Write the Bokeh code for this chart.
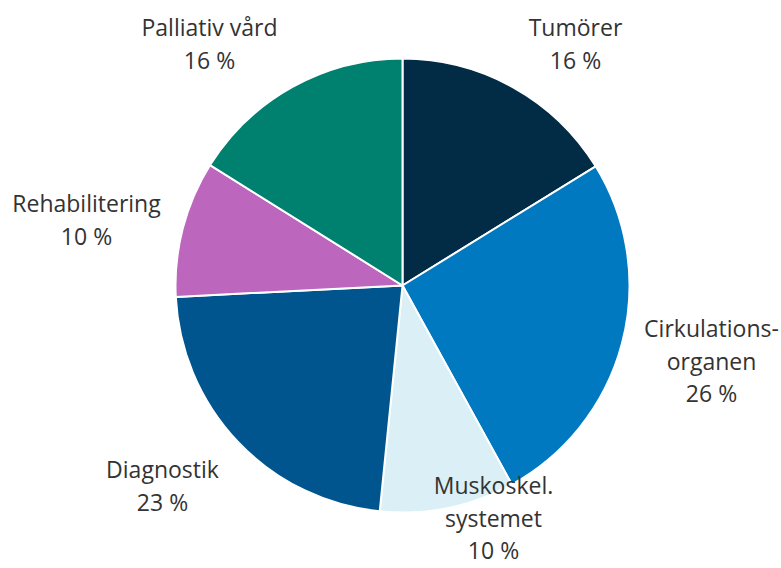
import math
from bokeh.plotting import figure
from bokeh.models import Range1d, ColumnDataSource
from bokeh.core.properties import value
from bokeh.embed import file_html
from bokeh.resources import INLINE

categories = ["Tumörer", "Cirkulations-\norganen", "Muskoskel.\nsystemet", "Diagnostik", "Rehabilitering", "Palliativ vård"]
shares = [16.2, 25.8, 9.6, 22.6, 9.7, 16.1]
pct_labels = ["16 %", "26 %", "10 %", "23 %", "10 %", "16 %"]
colors = ["#022b45", "#0079c1", "#dbeff6", "#00558f", "#bd66bd", "#00806f"]

# layout (screen pixels in the page)
W, H = 781, 568
cx, cy, R = 402, 285, 227
label_pos = [(575, 43), (711, 360), (493, 517), (162, 485), (86, 219), (209, 43)]
line_gap = 32.5

total = sum(shares)
starts, ends = [], []
cum = 0.0
for s in shares:
    a0 = math.pi / 2 - 2 * math.pi * cum / total
    cum += s
    a1 = math.pi / 2 - 2 * math.pi * cum / total
    starts.append(a0)
    ends.append(a1)

p = figure(width=W, height=H, output_backend="svg", toolbar_location=None,
           x_range=Range1d(0, W), y_range=Range1d(-H, 0),
           min_border=0)
p.axis.visible = False
p.grid.visible = False
p.outline_line_color = None
p.background_fill_color = "white"
p.border_fill_color = "white"

src = ColumnDataSource(dict(start=starts, end=ends, color=colors))
p.wedge(x=cx, y=-cy, radius=R, start_angle="start", end_angle="end",
        direction="clock", fill_color="color", line_color="white", line_width=2,
        source=src)

xs, ys, ts = [], [], []
for c, pl, (lx, ly) in zip(categories, pct_labels, label_pos):
    lines = c.split("\n") + [pl]
    n = len(lines)
    for i, ln in enumerate(lines):
        xs.append(lx)
        ys.append(-(ly + (i - (n - 1) / 2) * line_gap))
        ts.append(ln)
lsrc = ColumnDataSource(dict(x=xs, y=ys, t=ts))
p.text(x="x", y="y", text="t", source=lsrc, text_align="center", text_baseline="middle",
       text_font=value("Open Sans"), text_font_size="23px", text_color="#333333")

open("out.html", "w").write(file_html(p, INLINE))
